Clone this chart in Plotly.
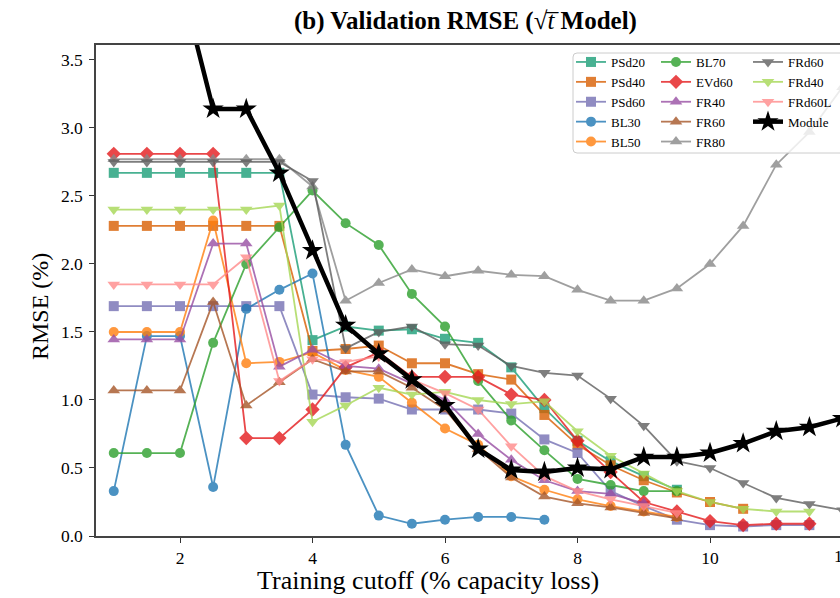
import plotly.graph_objects as go

# Training cutoff grid (% capacity loss)
cutoff = [1.0, 1.5, 2.0, 2.5, 3.0, 3.5, 4.0, 4.5, 5.0, 5.5, 6.0, 6.5,
          7.0, 7.5, 8.0, 8.5, 9.0, 9.5, 10.0, 10.5, 11.0, 11.5, 12.0]

# Validation RMSE (%) per cell, starting at cutoff = 1.0
psd20 = [2.67, 2.67, 2.67, 2.67, 2.67, 2.67, 1.44, 1.54, 1.51, 1.52, 1.45, 1.42,
         1.24, 0.94, 0.70, 0.55, 0.44, 0.34]
psd40 = [2.28, 2.28, 2.28, 2.28, 2.28, 2.28, 1.36, 1.375, 1.40, 1.27, 1.27, 1.19,
         1.15, 0.89, 0.67, 0.52, 0.41, 0.32, 0.25, 0.20]
psd60 = [1.69, 1.69, 1.69, 1.69, 1.69, 1.69, 1.04, 1.02, 1.01, 0.93, 0.93, 0.93,
         0.90, 0.71, 0.61, 0.33, 0.22, 0.12, 0.08, 0.07, 0.08, 0.08]
bl30 = [0.33, 1.47, 1.47, 0.36, 1.67, 1.81, 1.93, 0.67, 0.15, 0.09, 0.12, 0.14,
        0.14, 0.12]
bl50 = [1.50, 1.50, 1.50, 2.32, 1.27, 1.28, 1.35, 1.22, 1.17, 0.98, 0.79, 0.67,
        0.44, 0.34, 0.27, 0.22, 0.18, 0.14]
bl70 = [0.61, 0.61, 0.61, 1.42, 2.00, 2.27, 2.54, 2.30, 2.14, 1.78, 1.54, 1.14,
        0.85, 0.63, 0.42, 0.375, 0.33, 0.33]
evd60 = [2.81, 2.81, 2.81, 2.81, 0.72, 0.72, 0.93, 1.24, 1.35, 1.17, 1.17, 1.17,
         1.04, 1.00, 0.70, 0.47, 0.25, 0.18, 0.11, 0.08, 0.09, 0.09]
fr40 = [1.445, 1.445, 1.445, 2.15, 2.15, 1.245, 1.37, 1.25, 1.23, 1.12, 1.00, 0.75,
        0.56, 0.41, 0.33, 0.31, 0.24]
fr60 = [1.07, 1.07, 1.07, 1.72, 0.96, 1.13, 1.30, 1.21, 1.21, 1.09, 0.93, 0.64,
        0.43, 0.29, 0.24, 0.21, 0.17, 0.13]
fr80 = [2.77, 2.77, 2.77, 2.77, 2.77, 2.77, 2.57, 1.73, 1.86, 1.96, 1.91, 1.95,
        1.92, 1.91, 1.81, 1.73, 1.73, 1.82, 2.00, 2.28, 2.73, 2.97, 3.30]
frd60 = [2.75, 2.75, 2.75, 2.75, 2.75, 2.75, 2.61, 1.38, 1.50, 1.54, 1.41, 1.40,
         1.25, 1.20, 1.18, 1.01, 0.81, 0.55, 0.50, 0.39, 0.28, 0.235, 0.19]
frd40 = [2.40, 2.40, 2.40, 2.40, 2.40, 2.43, 0.84, 0.96, 1.09, 1.04, 1.06, 1.00,
         0.97, 0.99, 0.77, 0.59, 0.46, 0.33, 0.25, 0.20, 0.18, 0.18]
frd60l = [1.85, 1.85, 1.85, 1.85, 2.05, 1.14, 1.30, 1.28, 1.32, 1.15, 1.05, 0.93,
          0.66, 0.44, 0.33, 0.27, 0.22, 0.17]
module = [4.50, 4.30, 4.10, 3.14, 3.14, 2.67, 2.10, 1.55, 1.34, 1.15, 0.96, 0.64,
          0.485, 0.47, 0.50, 0.49, 0.58, 0.58, 0.61, 0.68, 0.77, 0.80, 0.865]

# name, values, colour, marker symbol, marker size, legend column
series = [
    ("PSd20", psd20, "#1b9e77", "square", 10, "legend"),
    ("PSd40", psd40, "#d95f02", "square", 10, "legend"),
    ("PSd60", psd60, "#7570b3", "square", 10, "legend"),
    ("BL30", bl30, "#1f77b4", "circle", 10, "legend"),
    ("BL50", bl50, "#ff7f0e", "circle", 10, "legend"),
    ("BL70", bl70, "#2ca02c", "circle", 10, "legend2"),
    ("EVd60", evd60, "#e41a1c", "diamond", 11, "legend2"),
    ("FR40", fr40, "#984ea3", "triangle-up", 11, "legend2"),
    ("FR60", fr60, "#a65628", "triangle-up", 11, "legend2"),
    ("FR80", fr80, "#888888", "triangle-up", 11, "legend2"),
    ("FRd60", frd60, "#5e5e5e", "triangle-down", 11, "legend3"),
    ("FRd40", frd40, "#a6d854", "triangle-down", 11, "legend3"),
    ("FRd60L", frd60l, "#ff8a8a", "triangle-down", 11, "legend3"),
]

fig = go.Figure()
for name, vals, color, sym, size, leg in series:
    fig.add_trace(go.Scatter(
        x=cutoff[:len(vals)], y=vals, mode="lines+markers", name=name,
        line=dict(color=color, width=1.8),
        marker=dict(symbol=sym, size=size, color=color, line=dict(width=0)),
        opacity=0.8, legend=leg,
    ))

fig.add_trace(go.Scatter(
    x=cutoff[:len(module)], y=module, mode="lines+markers", name="Module",
    line=dict(color="black", width=4.5),
    marker=dict(symbol="star", size=16, color="black", line=dict(width=0)),
    legend="legend3",
))

# plot-area geometry helpers (paper coords from pixel positions)
W_PLOT, H_PLOT, L_M, B_Y = 744.0, 491.0, 96.0, 536.0


def px(xp):
    return (xp - L_M) / W_PLOT


def py(yp):
    return (B_Y - yp) / H_PLOT


# legend frame with rounded left corners
Lx, Rx, Ty, By = px(573), px(880), py(53), py(153)
rx, ry = 4 / W_PLOT, 4 / H_PLOT
frame = (f"M {Lx + rx},{Ty} L {Rx},{Ty} L {Rx},{By} L {Lx + rx},{By} "
         f"Q {Lx},{By} {Lx},{By + ry} L {Lx},{Ty - ry} Q {Lx},{Ty} {Lx + rx},{Ty} Z")
fig.add_shape(type="path", path=frame, xref="paper", yref="paper",
              fillcolor="rgba(255,255,255,0.8)", line=dict(color="#cccccc", width=1),
              layer="above")

leg_common = dict(yanchor="top", xanchor="left", bgcolor="rgba(0,0,0,0)",
                  borderwidth=0, font=dict(size=13, family="Liberation Serif"),
                  tracegroupgap=0)

fig.update_layout(
    width=840, height=598,
    margin=dict(l=96, r=0, t=45, b=62),
    plot_bgcolor="white", paper_bgcolor="white",
    font=dict(family="Liberation Serif", color="black"),
    showlegend=True,
    legend=dict(x=px(571), y=py(47), **leg_common),
    legend2=dict(x=px(656), y=py(47), **leg_common),
    legend3=dict(x=px(748), y=py(47), **leg_common),
    xaxis=dict(range=[0.732, 11.962], tickvals=[2, 4, 6, 8, 10, 12],
               ticks="outside", ticklen=5, tickwidth=1.2, tickcolor="#333",
               showline=True, linecolor="#444", linewidth=1.5, mirror=True,
               showgrid=False, zeroline=False, tickfont=dict(size=17.5)),
    yaxis=dict(range=[0, 3.61], tickvals=[0, 0.5, 1.0, 1.5, 2.0, 2.5, 3.0, 3.5],
               tickformat=".1f", ticks="outside", ticklen=5, tickwidth=1.2,
               tickcolor="#333", showline=True, linecolor="#444", linewidth=1.5,
               mirror=False, showgrid=False, zeroline=False,
               tickfont=dict(size=17.5), ticklabelstandoff=3),
    annotations=[
        dict(text="<b>(b) Validation RMSE (</b>\u221a<i>t\u0305</i><b> Model)</b>",
             x=px(465), y=py(21), xref="paper", yref="paper", showarrow=False,
             xanchor="center", yanchor="middle", font=dict(size=25)),
        dict(text="Training cutoff (% capacity loss)", x=px(428), y=py(580),
             xref="paper", yref="paper", showarrow=False, xanchor="center",
             yanchor="middle", font=dict(size=26)),
        dict(text="RMSE (%)", x=px(40), y=py(307), xref="paper", yref="paper",
             showarrow=False, textangle=-90, xanchor="center", yanchor="middle",
             font=dict(size=24)),
        dict(text="12", x=px(842.5), y=py(556), xref="paper", yref="paper",
             showarrow=False, xanchor="center", yanchor="middle",
             font=dict(size=17.5)),
    ],
)

fig.write_html("out.html")
